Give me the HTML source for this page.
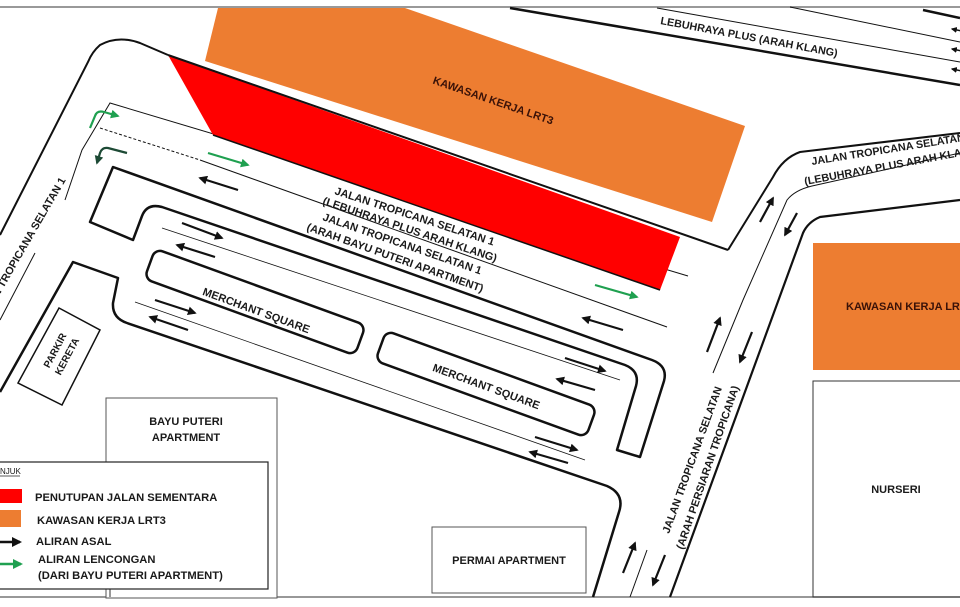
<!DOCTYPE html>
<html><head><meta charset="utf-8"><style>
html,body{margin:0;padding:0;background:#fff;}
svg{display:block;}
text{font-family:"Liberation Sans",sans-serif;font-weight:bold;fill:#1a1a1a;}
</style></head><body>
<svg width="960" height="607" viewBox="0 0 960 607" xmlns="http://www.w3.org/2000/svg">
<defs>
<marker id="ab" viewBox="0 0 10 10" refX="8" refY="5" markerWidth="4" markerHeight="4" orient="auto"><path d="M0,0 L10,5 L0,10 Z" fill="#111"/></marker>
<marker id="ag" viewBox="0 0 10 10" refX="8" refY="5" markerWidth="4" markerHeight="4" orient="auto"><path d="M0,0 L10,5 L0,10 Z" fill="#1fa050"/></marker>
<marker id="adg" viewBox="0 0 10 10" refX="8" refY="5" markerWidth="4" markerHeight="4" orient="auto"><path d="M0,0 L10,5 L0,10 Z" fill="#1d4a35"/></marker>
</defs>
<rect width="960" height="607" fill="#fff"/>
<line x1="0" y1="7" x2="960" y2="7" stroke="#999" stroke-width="2"/>
<line x1="0" y1="597" x2="960" y2="597" stroke="#777" stroke-width="1.5"/>

<!-- thin top line (behind red) -->
<path d="M688,276 L110,103 L82,150 L65,200" fill="none" stroke="#111" stroke-width="1"/>

<polygon points="218,8 405,8 745,126 712,222 205,61" fill="#ed7d31"/>
<polygon points="168,55 680,237 660,290 213,135" fill="#ff0000"/>
<line x1="213" y1="135" x2="660" y2="290" stroke="#111" stroke-width="1.5"/>
<rect x="813" y="243" width="150" height="127" fill="#ed7d31"/>
<rect x="813" y="381" width="150" height="216" fill="none" stroke="#333" stroke-width="1"/>

<line x1="510" y1="8" x2="960" y2="85" stroke="#111" stroke-width="2.5"/>
<line x1="657" y1="8" x2="960" y2="62" stroke="#111" stroke-width="1"/>
<line x1="790" y1="7" x2="960" y2="42" stroke="#111" stroke-width="1"/>
<line x1="923" y1="10" x2="960" y2="18" stroke="#111" stroke-width="2.5"/>
<g stroke="#111" stroke-width="1.5" marker-end="url(#ab)">
<line x1="962" y1="31" x2="952" y2="29"/><line x1="962" y1="51" x2="952" y2="49"/><line x1="962" y1="71" x2="952" y2="69"/>
</g>

<path d="M168,55 L140,43 Q118,35 100,45 Q92,52 88,62 L0,235" fill="none" stroke="#111" stroke-width="2"/>
<line x1="168" y1="55" x2="728" y2="250" stroke="#111" stroke-width="2"/>
<path d="M728,250 L773,177 Q783,158 800,152 L960,133" fill="none" stroke="#111" stroke-width="2"/>
<path d="M960,153 L812,186 Q795,190 787,200 L743,300 L713,373" fill="none" stroke="#111" stroke-width="1"/>
<line x1="647" y1="550" x2="630" y2="597" stroke="#111" stroke-width="1"/>
<path d="M960,200 L820,217 Q808,222 803,233 L670,597" fill="none" stroke="#111" stroke-width="2.2"/>

<line x1="100" y1="128" x2="200" y2="160" stroke="#111" stroke-width="1" stroke-dasharray="3,2"/>
<line x1="200" y1="160" x2="667" y2="327" stroke="#111" stroke-width="1"/>
<line x1="35" y1="253" x2="0" y2="320" stroke="#111" stroke-width="1"/>
<line x1="162" y1="228" x2="620" y2="380" stroke="#111" stroke-width="0.8"/>
<line x1="135" y1="302" x2="585" y2="460" stroke="#111" stroke-width="0.8"/>

<path d="M113,167 L652,360 Q668,366 664,381 L640,457 L617,450 L636,386 Q640,371 625,365 L162,207 Q147,203 142,216 L133,240 L90,222 Z" fill="none" stroke="#111" stroke-width="2.5" stroke-linejoin="round"/>
<path d="M0,392 L73,262 L118,278 L113,303 Q112,318 127,323 L607,486 Q625,494 619,512 L593,597" fill="none" stroke="#111" stroke-width="2.5" stroke-linejoin="round"/>

<rect x="-112" y="-16" width="224" height="32" rx="8" fill="none" stroke="#111" stroke-width="2.5" transform="translate(255,302) rotate(20)"/>
<rect x="-112" y="-16" width="224" height="32" rx="8" fill="none" stroke="#111" stroke-width="2.5" transform="translate(486,384) rotate(20)"/>
<text font-size="11" text-anchor="middle" transform="translate(255,314) rotate(20)">MERCHANT SQUARE</text>
<text font-size="11" text-anchor="middle" transform="translate(485,390) rotate(20)">MERCHANT SQUARE</text>

<polygon points="59,308 100,330 62,405 18,383" fill="none" stroke="#111" stroke-width="1.5"/>
<text font-size="10" text-anchor="middle" transform="translate(58,352) rotate(-62)">PARKIR</text>
<text font-size="10" text-anchor="middle" transform="translate(70,358) rotate(-62)">KERETA</text>

<rect x="106" y="398" width="171" height="200" fill="#fff" stroke="#555" stroke-width="1"/>
<text font-size="11" x="186" y="425" text-anchor="middle">BAYU PUTERI</text>
<text font-size="11" x="186" y="441" text-anchor="middle">APARTMENT</text>
<rect x="432" y="527" width="154" height="66" fill="#fff" stroke="#555" stroke-width="1"/>
<text font-size="11" x="509" y="564" text-anchor="middle">PERMAI APARTMENT</text>
<text font-size="11" x="896" y="493" text-anchor="middle">NURSERI</text>
<text font-size="11" x="846" y="310" style="fill:#3a1208">KAWASAN KERJA LRT3</text>

<line x1="110" y1="589" x2="110" y2="597" stroke="#333" stroke-width="1"/>
<rect x="-1" y="462" width="269" height="127" fill="#fff" stroke="#222" stroke-width="1.2"/>
<text x="0" y="474" font-size="8" style="font-weight:normal">NJUK</text>
<line x1="0" y1="476" x2="20" y2="476" stroke="#222" stroke-width="0.8"/>
<rect x="0" y="489" width="22" height="14" fill="#ff0000"/>
<rect x="0" y="510" width="21" height="17" fill="#ed7d31"/>
<line x1="0" y1="542" x2="20" y2="542" stroke="#111" stroke-width="2.5" marker-end="url(#ab)"/>
<line x1="0" y1="564" x2="21" y2="564" stroke="#1fa050" stroke-width="2.5" marker-end="url(#ag)"/>
<text x="35" y="501" font-size="11.2">PENUTUPAN JALAN SEMENTARA</text>
<text x="37" y="524" font-size="11.2">KAWASAN KERJA LRT3</text>
<text x="36" y="545" font-size="11.2">ALIRAN ASAL</text>
<text x="38" y="563" font-size="11.2">ALIRAN LENCONGAN</text>
<text x="38" y="579" font-size="11.2">(DARI BAYU PUTERI APARTMENT)</text>

<text font-size="11" style="fill:#3a1208" text-anchor="middle" transform="translate(492,104) rotate(19)">KAWASAN KERJA LRT3</text>
<text font-size="10.8" transform="translate(660,24) rotate(10.5)">LEBUHRAYA PLUS (ARAH KLANG)</text>
<g font-size="11">
<text transform="translate(334,194) rotate(18)">JALAN TROPICANA SELATAN 1</text>
<text transform="translate(322,204) rotate(18.5)">(LEBUHRAYA PLUS ARAH KLANG)</text>
<text transform="translate(322,220) rotate(19)">JALAN TROPICANA SELATAN 1</text>
<text transform="translate(306,230) rotate(19.5)">(ARAH BAYU PUTERI APARTMENT)</text>
</g>
<text font-size="10.8" transform="translate(812,165) rotate(-9)">JALAN TROPICANA SELATAN 1</text>
<text font-size="10.8" transform="translate(805,185) rotate(-10.5)">(LEBUHRAYA PLUS ARAH KLANG)</text>
<text font-size="10.8" transform="translate(669,534) rotate(-70)">JALAN TROPICANA SELATAN</text>
<text font-size="10.8" transform="translate(683,550) rotate(-71)">(ARAH PERSIARAN TROPICANA)</text>
<text font-size="10.8" text-anchor="end" transform="translate(66,180) rotate(-60)">JALAN TROPICANA SELATAN 1</text>

<g stroke="#111" stroke-width="2.2" marker-end="url(#ab)">
<line x1="238" y1="190" x2="200" y2="178"/>
<line x1="182" y1="223" x2="222" y2="238"/>
<line x1="215" y1="257" x2="177" y2="245"/>
<line x1="155" y1="300" x2="195" y2="313"/>
<line x1="188" y1="330" x2="150" y2="317"/>
<line x1="623" y1="330" x2="583" y2="318"/>
<line x1="565" y1="358" x2="605" y2="371"/>
<line x1="595" y1="390" x2="557" y2="379"/>
<line x1="535" y1="437" x2="577" y2="450"/>
<line x1="568" y1="463" x2="530" y2="452"/>
<line x1="707" y1="352" x2="720" y2="318"/>
<line x1="752" y1="332" x2="740" y2="362"/>
<line x1="623" y1="573" x2="635" y2="543"/>
<line x1="665" y1="555" x2="653" y2="585"/>
<line x1="760" y1="222" x2="773" y2="198"/>
<line x1="797" y1="213" x2="785" y2="235"/>
</g>
<g stroke="#1fa050" stroke-width="2.2" fill="none" marker-end="url(#ag)">
<line x1="208" y1="153" x2="248" y2="165"/>
<line x1="595" y1="285" x2="637" y2="297"/>
<path d="M90,128 L95,116 Q97,110 104,112 L118,116"/>
</g>
<path d="M127,153 L108,148 Q102,147 100,153 L97,163" fill="none" stroke="#1d4a35" stroke-width="2.2" marker-end="url(#adg)"/>
</svg>
</body></html>
